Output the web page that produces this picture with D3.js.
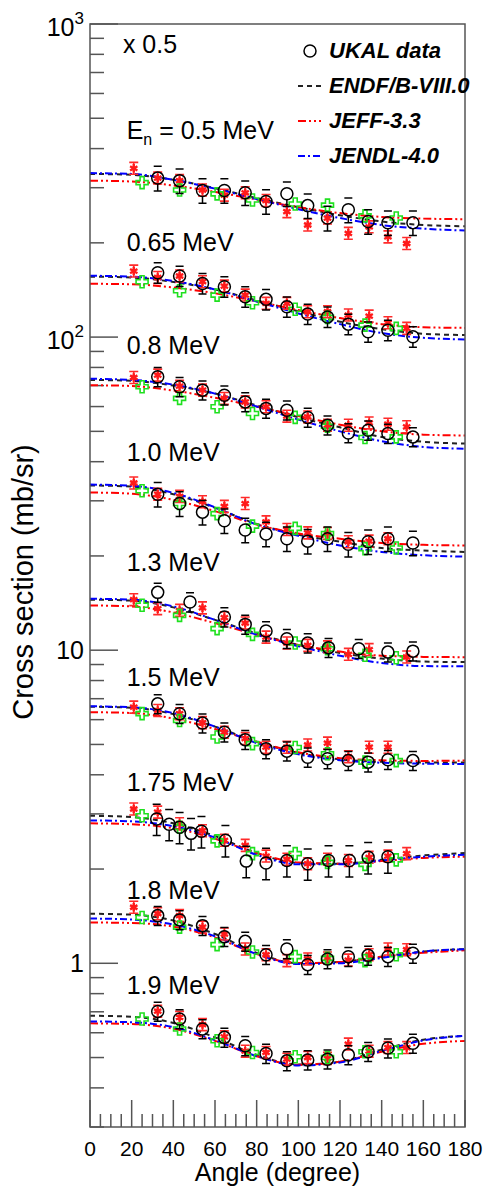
<!DOCTYPE html>
<meta charset="utf-8">
<style>
body { margin: 0; background: #fff; }
text { font-family: "Liberation Sans", Arial, Helvetica, sans-serif; fill: #000; }
.frame { fill: none; stroke: #555; stroke-width: 1.5px; }
.tick { stroke: #555; stroke-width: 1.5px; }
.endf { fill: none; stroke: #222; stroke-width: 2px; stroke-dasharray: 5,4; }
.jeff { fill: none; stroke: #f00; stroke-width: 2px; stroke-dasharray: 8,3,2,3,2,3; }
.jendl { fill: none; stroke: #00f; stroke-width: 2px; stroke-dasharray: 7,3,2,3; }
.ukal { fill: none; stroke: #000; stroke-width: 1.5px; }
.ebar { stroke: #000; stroke-width: 1.5px; }
.rbar { stroke: #ff2a2a; stroke-width: 1.6px; }
.rstar { fill: none; stroke: #ff1a1a; stroke-width: 2.4px; }
.gcross { fill: none; stroke: #1fe01f; stroke-width: 1.6px; }
.legend text { font-weight: bold; font-style: italic; font-size: 22px; }
</style>
<svg width="486" height="1191"></svg>
<script src="https://d3js.org/d3.v7.min.js"></script>
<script>
// energies and where their labels sit (mb/sr, as drawn)
var energyLabels = ["0.5 MeV", "0.65 MeV", "0.8 MeV", "1.0 MeV", "1.3 MeV", "1.5 MeV", "1.75 MeV", "1.8 MeV", "1.9 MeV"];
var labelAt = [458, 201, 94.3, 43, 19.1, 8.2, 3.79, 1.71, 0.851];

// UKAL data (values as plotted, already scaled)
var anglesStd = [32.5, 43, 54, 64.5, 74.5, 84.5, 94.5, 104.5, 114, 124, 133.5, 143, 155];
var angles13 = [32.5, 48, 64.5, 74.5, 84.5, 94.5, 104.5, 114.5, 129, 143, 155];
var angles175 = [32, 38, 43, 48.5, 53.5, 65, 75, 84.5, 94.5, 104.5, 114.5, 124.5, 133.5, 143];
var ukalAngles = [anglesStd, anglesStd, anglesStd, anglesStd, angles13, anglesStd, angles175, anglesStd, anglesStd];
var ukalValues = [
  [322, 316, 294, 294, 289, 271, 287, 263, 240, 255, 234, 232, 232],
  [160.6, 156.7, 148.4, 144.9, 134.6, 132, 125, 118.5, 116, 110, 104, 105.2, 100.3],
  [74.7, 69.4, 67.7, 65.2, 62.1, 59.2, 58.4, 55.4, 52.3, 49.4, 50.4, 49.2, 48],
  [31.5, 29.4, 27.6, 25.9, 24.2, 23.5, 22.7, 22.3, 22.7, 21.8, 22.2, 22.7, 22],
  [15.3, 14.25, 12.76, 12.09, 11.51, 10.88, 10.54, 10.19, 10.11, 9.86, 9.93],
  [6.74, 6.27, 5.85, 5.47, 5.18, 4.84, 4.76, 4.55, 4.50, 4.44, 4.39, 4.47, 4.44],
  [2.89, 2.78, 2.72, 2.60, 2.64, 2.47, 2.12, 2.09, 2.13, 2.08, 2.13, 2.13, 2.18, 2.19],
  [1.42, 1.376, 1.319, 1.216, 1.175, 1.065, 1.111, 0.990, 1.032, 1.05, 1.06, 1.05, 1.076],
  [0.702, 0.664, 0.617, 0.580, 0.545, 0.515, 0.488, 0.491, 0.494, 0.510, 0.522, 0.536, 0.555]
];
var ukalErr = [0.09, 0.075, 0.07, 0.09, 0.07, 0.07, 0.115, 0.07, 0.07];

// other measurements: red stars and green crosses
var redAngles = [21, 32.5, 43, 54, 64.5, 74.5, 84.5, 94.5, 104.5, 114, 124, 134, 143, 152];
var redValues = [
  [346, 322, 316, 295, 284, 289, 273, 251.5, 228, 240, 214.5, 225, 209, 199],
  [162.5, 155, 156.7, 150.3, 145.5, 136.2, 128.2, 128.2, 120.5, 120.5, 117.6, 116.7, 111.1, 106.6],
  [74.3, 75.6, 69.7, 67.7, 63.7, 62.1, 59.9, 55.9, 55.6, 52.3, 52.3, 53.2, 52.7, 51.7],
  [34.2, 31.5, 31, 29.8, 28.8, 29.4, 25.7, 24.3, 23.7, 23.6, 22.2, 22.3, 22.7, null],
  [14.5, 13.57, 13.4, 13.65, 12.7, 12.21, 11.01, 10.54, 10.36, 10.25, 9.70, 10.04, null, 9.51],
  [6.58, 6.42, 6.27, 5.87, 5.47, 5.22, 4.90, 4.90, 4.98, 5.05, 4.57, 4.90, 4.90, null],
  [3.11, 3.04, 2.79, 2.65, 2.47, 2.38, 2.20, 2.15, 2.08, 2.15, 2.13, 2.18, 2.20, 2.24],
  [1.51, 1.44, 1.42, 1.305, 1.24, 1.111, 1.065, 1.02, 1.032, 1.04, 1.024, 1.065, 1.111, 1.105],
  [null, 0.703, 0.672, 0.637, 0.582, 0.524, 0.519, 0.494, 0.500, 0.497, 0.552, 0.524, 0.538, 0.538]
];
var greenAngles = [25, 43, 61, 78, 98.5, 114, 132, 147];
var greenValues = [
  [311.5, 295, 286.6, 274, 266, 264, 243.8, 240],
  [150.3, 140.6, 136.2, 128.8, 122.7, 115.6, 109.2, 106.6],
  [69.4, 63.7, 59.9, 57, 55.4, 51.9, 47.8, 48],
  [32.3, 29.4, 27.3, 24.9, 24.5, 23.6, 21.1, 21.2],
  [13.91, 12.92, 11.72, 11.23, 10.54, 10.11, 9.63, 9.46],
  [6.27, 5.96, 5.28, 5.03, 4.89, 4.67, 4.39, 4.44],
  [2.96, 2.72, 2.46, 2.24, 2.24, 2.10, 2.07, 2.14],
  [1.40, 1.305, 1.147, 1.087, 1.05, 1.037, 1.02, 1.065],
  [0.664, 0.617, 0.566, 0.519, 0.503, 0.500, 0.522, 0.522]
];

// evaluated curves
var curveAngles = [0, 20, 40, 60, 80, 100, 120, 140, 160, 180];
var endf = [
  [332, 330, 318, 299, 278, 260, 245, 234, 228, 226],
  [156, 155, 150, 142, 131, 121, 112, 106, 102.5, 101.5],
  [73, 72.5, 70, 66, 60.5, 55.5, 51.5, 48, 46.3, 45.7],
  [33.6, 33.3, 31.5, 28.5, 25.3, 23.4, 22.2, 21.2, 20.8, 20.6],
  [14.5, 14.4, 13.7, 12.5, 11.3, 10.4, 9.8, 9.4, 9.2, 9.16],
  [6.6, 6.55, 6.25, 5.7, 5.1, 4.7, 4.48, 4.4, 4.38, 4.38],
  [2.96, 2.93, 2.8, 2.55, 2.25, 2.09, 2.08, 2.14, 2.21, 2.25],
  [1.44, 1.43, 1.37, 1.24, 1.08, 1.0, 1.01, 1.05, 1.09, 1.11],
  [0.68, 0.675, 0.645, 0.58, 0.51, 0.475, 0.485, 0.53, 0.57, 0.587]
];
var jeff = [
  [316, 314, 305, 291, 275, 260, 249, 242, 239, 238],
  [148, 147.5, 144, 138, 130, 122, 115, 110, 107.5, 107],
  [70.2, 69.8, 67.5, 64, 60, 56, 52.5, 50, 48.8, 48.5],
  [31.9, 31.6, 30.2, 27.8, 25.2, 23.6, 22.7, 22, 21.7, 21.6],
  [13.9, 13.8, 13.2, 12.2, 11.2, 10.4, 9.9, 9.6, 9.52, 9.5],
  [6.34, 6.3, 6.05, 5.6, 5.1, 4.72, 4.52, 4.45, 4.43, 4.44],
  [2.8, 2.78, 2.7, 2.5, 2.25, 2.1, 2.08, 2.12, 2.17, 2.19],
  [1.35, 1.345, 1.31, 1.21, 1.07, 1.0, 1.01, 1.05, 1.08, 1.10],
  [0.643, 0.64, 0.618, 0.565, 0.505, 0.474, 0.485, 0.522, 0.553, 0.565]
];
var jendl = [
  [334, 332, 318, 298, 276, 256, 240, 228, 222, 219],
  [157, 156, 151, 142, 130, 119, 110, 103, 99.5, 98.3],
  [73.6, 73, 70.5, 66, 60, 54.5, 50, 46.5, 44.6, 44],
  [33.8, 33.5, 31.8, 28.6, 25.2, 23.2, 21.6, 20.6, 20.1, 19.9],
  [14.6, 14.5, 13.8, 12.5, 11.2, 10.3, 9.6, 9.1, 8.9, 8.88],
  [6.62, 6.57, 6.3, 5.7, 5.05, 4.65, 4.45, 4.37, 4.34, 4.33],
  [2.86, 2.84, 2.74, 2.52, 2.22, 2.07, 2.07, 2.13, 2.19, 2.22],
  [1.39, 1.38, 1.33, 1.22, 1.07, 0.995, 1.0, 1.04, 1.09, 1.11],
  [0.652, 0.648, 0.625, 0.568, 0.505, 0.472, 0.482, 0.525, 0.567, 0.587]
];

var xMajor = [0, 20, 40, 60, 80, 100, 120, 140, 160, 180];
var yMajor = [1, 10, 100, 1000];

var svg = d3.select("svg"),
    margin = {top: 24, right: 21, bottom: 64, left: 90},
    width = +svg.attr("width") - margin.left - margin.right,
    height = +svg.attr("height") - margin.top - margin.bottom;

var x = d3.scaleLinear().domain([0, 180]).range([0, width]),
    y = d3.scaleLog().domain([0.3, 1000]).range([height, 0]);

var g = svg.append("g")
    .attr("transform", "translate(" + margin.left + "," + margin.top + ")");

// ticks
var xMinor = d3.range(0, 181, 5);
g.append("g").selectAll("line")
  .data(xMinor)
  .enter().append("line")
    .attr("class", "tick")
    .attr("x1", function(d) { return x(d); })
    .attr("x2", function(d) { return x(d); })
    .attr("y1", height)
    .attr("y2", function(d) { return height - (d % 20 === 0 ? 27 : 13); });

var yMinor = [];
[0.1, 1, 10, 100].forEach(function(dec) {
  for (var k = 2; k <= 9; k++) {
    var v = k * dec;
    if (v >= 0.3 && v < 1000) yMinor.push(v);
  }
});
g.append("g").selectAll("line")
  .data(yMinor.concat(yMajor))
  .enter().append("line")
    .attr("class", "tick")
    .attr("x1", 0)
    .attr("x2", function(d) { return yMajor.indexOf(d) >= 0 ? 28 : 14; })
    .attr("y1", function(d) { return y(d); })
    .attr("y2", function(d) { return y(d); });

// tick labels
g.append("g").selectAll("text")
  .data(xMajor)
  .enter().append("text")
    .attr("x", function(d) { return x(d); })
    .attr("y", height + 29)
    .attr("text-anchor", "middle")
    .style("font-size", "21px")
    .text(function(d) { return d; });

yMajor.forEach(function(v) {
  var t = g.append("text")
      .attr("x", -6)
      .attr("y", y(v))
      .attr("text-anchor", "end")
      .style("font-size", "25px");
  if (v >= 100) {
    t.attr("dy", 12).append("tspan").text("10");
    t.append("tspan").attr("dy", -12).style("font-size", "17px").text(Math.round(Math.log10(v)));
  } else {
    t.attr("dy", 9).text(v);
  }
});

// axis titles
svg.append("text")
    .attr("x", margin.left + x(90))
    .attr("y", 1181)
    .attr("text-anchor", "middle")
    .style("font-size", "25px")
    .text("Angle (degree)");

svg.append("text")
    .attr("transform", "translate(33," + 582 + ") rotate(-90)")
    .attr("text-anchor", "middle")
    .style("font-size", "29px")
    .text("Cross section (mb/sr)");

// curves
var line = d3.line()
    .x(function(d) { return x(d[0]); })
    .y(function(d) { return y(d[1]); })
    .curve(d3.curveMonotoneX);

var models = [[endf, "endf"], [jeff, "jeff"], [jendl, "jendl"]];

energyLabels.forEach(function(lab, i) {
  models.forEach(function(m) {
    g.append("path")
      .datum(curveAngles.map(function(a, j) { return [a, m[0][i][j]]; }))
      .attr("class", m[1])
      .attr("d", line);
  });
});

// data points
var star = d3.symbol().type(d3.symbolAsterisk).size(50),
    cross = d3.symbol().type(d3.symbolCross).size(80);

energyLabels.forEach(function(lab, i) {
  var red = redAngles.map(function(a, j) { return {a: a, v: redValues[i][j]}; })
      .filter(function(d) { return d.v != null; });
  var rg = g.append("g");
  rg.selectAll(".rbar")
    .data(red)
    .enter().append("path")
      .attr("class", "rbar")
      .attr("d", function(d) {
        var cx = x(d.a), y1 = y(d.v * 1.045), y2 = y(d.v / 1.045);
        return "M" + cx + "," + y1 + "V" + y2 +
               "M" + (cx - 4.5) + "," + y1 + "H" + (cx + 4.5) +
               "M" + (cx - 4.5) + "," + y2 + "H" + (cx + 4.5);
      });
  rg.selectAll(".rstar")
    .data(red)
    .enter().append("path")
      .attr("class", "rstar")
      .attr("transform", function(d) { return "translate(" + x(d.a) + "," + y(d.v) + ")"; })
      .attr("d", star);

  g.append("g").selectAll("path")
    .data(greenAngles.map(function(a, j) { return {a: a, v: greenValues[i][j]}; }))
    .enter().append("path")
      .attr("class", "gcross")
      .attr("transform", function(d) { return "translate(" + x(d.a) + "," + y(d.v) + ")"; })
      .attr("d", cross);

  var uk = ukalAngles[i].map(function(a, j) { return {a: a, v: ukalValues[i][j]}; });
  var e = ukalErr[i], r = 6;
  var ug = g.append("g");
  ug.selectAll(".ebar")
    .data(uk)
    .enter().append("path")
      .attr("class", "ebar")
      .attr("fill", "none")
      .attr("d", function(d) {
        var cx = x(d.a), cy = y(d.v), y1 = y(d.v * (1 + e)), y2 = y(d.v * (1 - e));
        return "M" + cx + "," + y1 + "V" + Math.min(cy - r, y1 + 0.01) +
               "M" + cx + "," + (cy + r) + "V" + Math.max(y2, cy + r) +
               "M" + (cx - 4) + "," + y1 + "H" + (cx + 4) +
               "M" + (cx - 4) + "," + y2 + "H" + (cx + 4);
      });
  ug.selectAll("circle")
    .data(uk)
    .enter().append("circle")
      .attr("class", "ukal")
      .attr("cx", function(d) { return x(d.a); })
      .attr("cy", function(d) { return y(d.v); })
      .attr("r", r);

  // energy label
  var t = g.append("text")
      .attr("x", x(17.6))
      .attr("y", y(labelAt[i]))
      .attr("dy", 9)
      .style("font-size", "25px");
  if (i === 0) {
    t.append("tspan").text("E");
    t.append("tspan").attr("dy", 6).style("font-size", "16px").text("n");
    t.append("tspan").attr("dy", -6).text(" = " + lab);
  } else {
    t.text(lab);
  }
});

g.append("text")
    .attr("x", x(15.8))
    .attr("y", 29)
    .style("font-size", "25px")
    .text("x 0.5");

// legend
var legend = svg.append("g").attr("class", "legend");
var legendItems = [["UKAL data", "ukal"], ["ENDF/B-VIII.0", "endf"], ["JEFF-3.3", "jeff"], ["JENDL-4.0", "jendl"]];
legendItems.forEach(function(d, i) {
  var by = 58 + 35 * i;
  if (d[1] === "ukal") {
    legend.append("circle").attr("class", "ukal").attr("cx", 310).attr("cy", by - 7).attr("r", 6);
  } else {
    legend.append("line").attr("class", d[1])
      .attr("x1", 298).attr("x2", 321).attr("y1", by - 7).attr("y2", by - 7);
  }
  legend.append("text").attr("x", 329).attr("y", by).text(d[0]);
});

// frame
g.append("rect")
    .attr("class", "frame")
    .attr("width", width)
    .attr("height", height);
</script>
